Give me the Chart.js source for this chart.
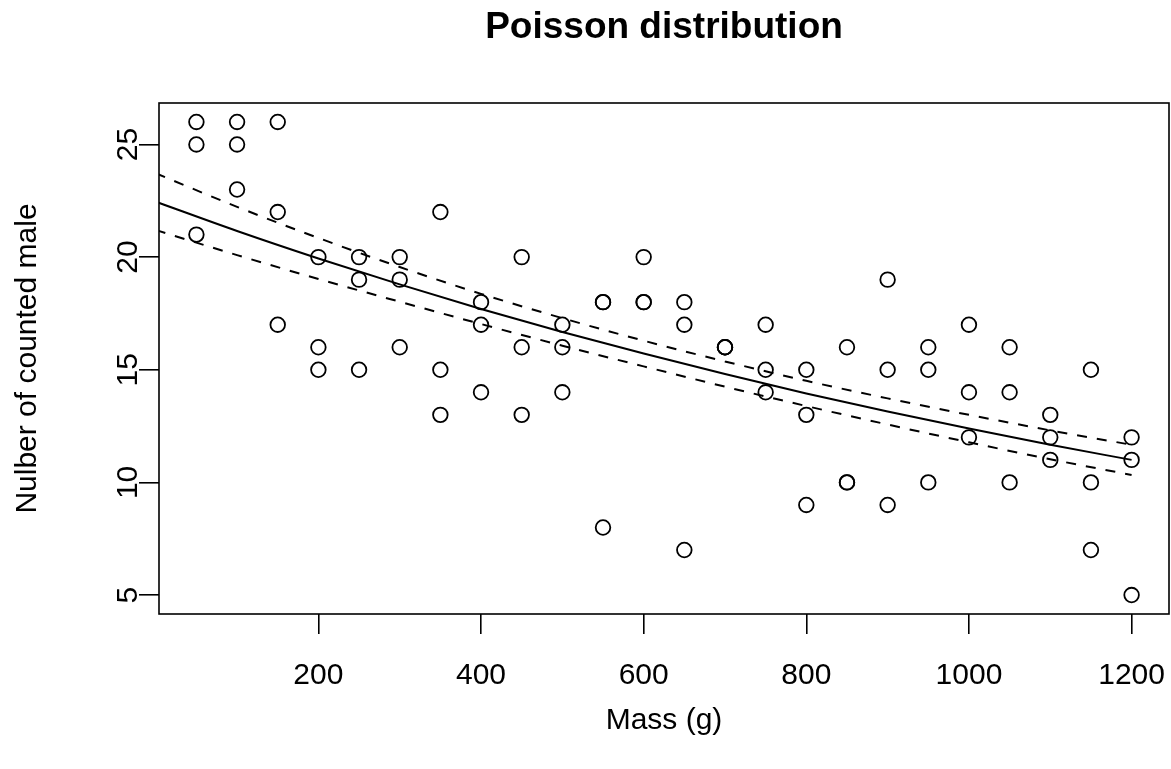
<!DOCTYPE html>
<html><head><meta charset="utf-8">
<script src="https://cdn.jsdelivr.net/npm/chart.js@4.4.0/dist/chart.umd.min.js"></script>
<style>html,body{margin:0;padding:0;background:#fff}#wrap{width:1171px;height:769px;position:relative}</style>
</head><body><div id="wrap"><canvas id="c" width="1171" height="769"></canvas></div>
<script>
// Observed data (mass in g, number of counted males)
const massValues = [
  50,50,50, 100,100,100, 150,150,150, 200,200,200, 250,250,250, 300,300,300,
  350,350,350, 400,400,400, 450,450,450, 500,500,500, 550,550,550, 600,600,600,
  650,650,650, 700,700,700, 750,750,750, 800,800,800, 850,850,850, 900,900,900,
  950,950,950, 1000,1000,1000, 1050,1050,1050, 1100,1100,1100, 1150,1150,1150, 1200,1200,1200
];
const maleCounts = [
  26,25,21, 26,25,23, 26,22,17, 20,16,15, 20,19,15, 20,19,16,
  22,15,13, 18,17,14, 20,16,13, 17,16,14, 18,18,8, 20,18,18,
  18,17,7, 16,16,16, 17,15,14, 15,13,9, 16,10,10, 19,15,9,
  16,15,10, 17,14,12, 16,14,10, 13,12,11, 15,10,7, 12,11,5
];
// Fitted curve and confidence band
const fitMass  = [0, 100, 200, 300, 400, 500, 600, 700, 800, 900, 1000, 1100, 1200];
const fitMean  = [22.46, 21.16, 19.94, 18.79, 17.70, 16.68, 15.72, 14.81, 13.95, 13.15, 12.39, 11.67, 11.00];
const fitUpper = [23.72, 22.23, 20.85, 19.56, 18.37, 17.29, 16.29, 15.37, 14.51, 13.73, 13.00, 12.31, 11.67];
const fitLower = [21.20, 20.09, 19.03, 18.02, 17.03, 16.07, 15.15, 14.25, 13.39, 12.57, 11.78, 11.03, 10.33];
// Axis ticks and texts
const xTicks = [200, 400, 600, 800, 1000, 1200];
const yTicks = [5, 10, 15, 20, 25];
const titleText = 'Poisson distribution';
const xTitle = 'Mass (g)';
const yTitle = 'Nulber of counted male';

const FONT = '"Liberation Sans", Arial, Helvetica, sans-serif';

const toXY = (xs, ys) => xs.map((x, i) => ({x: x, y: ys[i]}));

const decorPlugin = {
  id: 'decor',
  afterDraw(chart) {
    const ctx = chart.ctx;
    const a = chart.chartArea;
    const xs = chart.scales.x;
    const ys = chart.scales.y;
    ctx.save();
    // box
    ctx.strokeStyle = '#000';
    ctx.lineWidth = 1.6;
    ctx.strokeRect(a.left, a.top, a.right - a.left, a.bottom - a.top);
    ctx.fillStyle = '#000';
    ctx.textAlign = 'center';
    ctx.textBaseline = 'middle';
    // title
    ctx.font = 'bold 37px ' + FONT;
    ctx.fillText(titleText, (a.left + a.right) / 2, 28);
    // x tick labels
    ctx.font = '30px ' + FONT;
    xTicks.forEach(v => {
      ctx.fillText(String(v), xs.getPixelForValue(v), 676);
    });
    // x title
    ctx.fillText(xTitle, (a.left + a.right) / 2, 721);
    // y tick labels (rotated)
    yTicks.forEach(v => {
      const py = ys.getPixelForValue(v);
      ctx.save();
      ctx.translate(129, py);
      ctx.rotate(-Math.PI / 2);
      ctx.fillText(String(v), 0, 0);
      ctx.restore();
    });
    // y title
    ctx.save();
    ctx.translate(28, (a.top + a.bottom) / 2);
    ctx.rotate(-Math.PI / 2);
    ctx.fillText(yTitle, 0, 0);
    ctx.restore();
    ctx.restore();
  }
};

new Chart(document.getElementById('c'), {
  type: 'scatter',
  data: {
    datasets: [
      {
        label: 'observed',
        data: toXY(massValues, maleCounts),
        showLine: false,
        pointStyle: 'circle',
        pointRadius: 7.3,
        pointBorderWidth: 1.8,
        pointBorderColor: '#000',
        pointBackgroundColor: 'rgba(0,0,0,0)'
      },
      {
        label: 'fit',
        data: toXY(fitMass, fitMean),
        showLine: true,
        pointRadius: 0,
        borderColor: '#000',
        borderWidth: 2,
        cubicInterpolationMode: 'monotone'
      },
      {
        label: 'upper',
        data: toXY(fitMass, fitUpper),
        showLine: true,
        pointRadius: 0,
        borderColor: '#000',
        borderWidth: 2,
        borderDash: [10, 10],
        cubicInterpolationMode: 'monotone'
      },
      {
        label: 'lower',
        data: toXY(fitMass, fitLower),
        showLine: true,
        pointRadius: 0,
        borderColor: '#000',
        borderWidth: 2,
        borderDash: [10, 10],
        cubicInterpolationMode: 'monotone'
      }
    ]
  },
  options: {
    responsive: false,
    animation: false,
    devicePixelRatio: 1,
    layout: { autoPadding: false, padding: { top: 103, right: 2, left: 0, bottom: 0 } },
    plugins: { legend: { display: false }, tooltip: { enabled: false }, title: { display: false } },
    scales: {
      x: {
        type: 'linear',
        min: 4, max: 1246,
        afterBuildTicks: s => { s.ticks = xTicks.map(v => ({value: v})); },
        afterFit: s => { s.height = 155; s.paddingLeft = 0; s.paddingRight = 0; },
        border: { display: false },
        grid: { drawOnChartArea: false, drawTicks: true, tickLength: 20, color: '#000', lineWidth: 1.6 },
        ticks: { display: false }
      },
      y: {
        type: 'linear',
        min: 4.16, max: 26.84,
        afterBuildTicks: s => { s.ticks = yTicks.map(v => ({value: v})); },
        afterFit: s => { s.width = 159; s.paddingTop = 0; s.paddingBottom = 0; },
        border: { display: false },
        grid: { drawOnChartArea: false, drawTicks: true, tickLength: 20, color: '#000', lineWidth: 1.6 },
        ticks: { display: false }
      }
    }
  },
  plugins: [decorPlugin]
});
</script>
</body></html>
